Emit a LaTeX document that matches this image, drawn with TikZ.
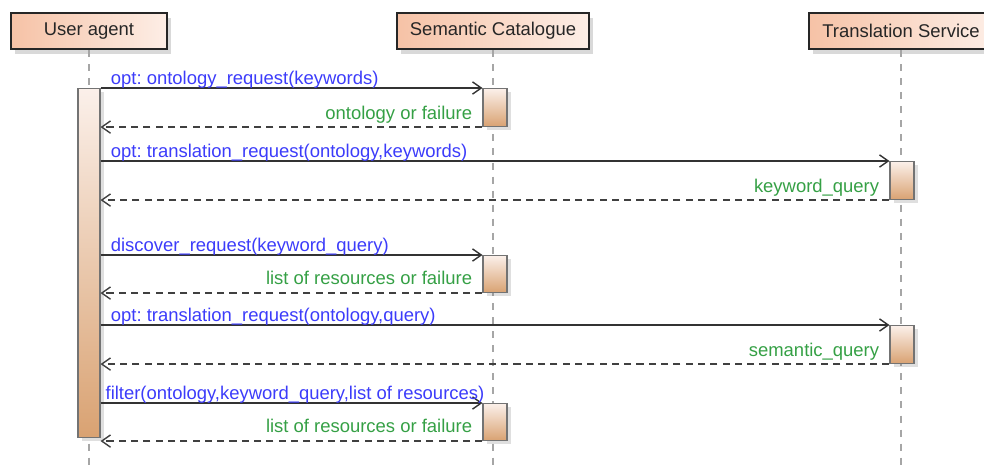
\documentclass[tikz,border=0pt]{standalone}
\usepackage{fontspec}
\setmainfont{Liberation Sans}
\usetikzlibrary{arrows.meta,shadows}
\frenchspacing

\definecolor{headL}{HTML}{F6C2A6}
\definecolor{headR}{HTML}{FDEEE6}
\definecolor{actT}{HTML}{FBF0EA}
\definecolor{actB}{HTML}{D9A272}
\definecolor{reqblue}{HTML}{3C3CFA}
\definecolor{ansgreen}{HTML}{35A045}

\begin{document}
\begin{tikzpicture}[x=0.02cm,y=-0.02cm,line width=0.8pt,
    font=\fontsize{10.5}{12}\selectfont,
    head/.style={draw=black!85, line width=1.2pt, left color=headL, right color=headR,
      minimum height=0.72cm, inner sep=2pt, text=black!85,
      drop shadow={opacity=0.3, shadow xshift=2pt, shadow yshift=-3pt}},
    act/.style={draw=black!55, line width=0.6pt, top color=actT, bottom color=actB,
      minimum width=0.48cm, inner sep=0pt, anchor=north,
      drop shadow={opacity=0.25, shadow xshift=2pt, shadow yshift=-2pt}},
    lifeline/.style={draw=black!35, line width=1pt, dash pattern=on 4pt off 4pt},
    call/.style={draw=black!80, -{Straight Barb[length=5pt,width=7pt]}},
    ret/.style={draw=black!75, dash pattern=on 4pt off 3pt, -{Straight Barb[length=5pt,width=7pt]}},
    reqtxt/.style={text=reqblue, anchor=south west, inner sep=0.5pt, xshift=5pt, yshift=-0.8pt},
    anstxt/.style={text=ansgreen, anchor=south east, inner sep=0.5pt, xshift=-5pt, yshift=1pt}]
  \useasboundingbox (0,0) rectangle (984,468);

  % ================= participants =================
  \node[head, minimum width=3.12cm] (ua) at (89,31) {User agent};
  \node[head, minimum width=3.84cm] (sc) at (493,31) {Semantic Catalogue};
  \node[head, minimum width=3.68cm] (ts) at (901,31) {Translation Service};

  % lifelines
  \draw[lifeline] (ua.south) -- (ua.south |- 0,470);
  \draw[lifeline] (sc.south) -- (sc.south |- 0,470);
  \draw[lifeline] (ts.south) -- (ts.south |- 0,470);

  % ================= activation bars =================
  \node[act, minimum width=0.44cm, minimum height=349*0.02cm] (uabar) at (89,88) {};
  \node[act, minimum height=38*0.02cm] (s1) at (495,88) {};
  \node[act, minimum height=38*0.02cm] (t1) at (902,161) {};
  \node[act, minimum height=37*0.02cm] (s2) at (495,255) {};
  \node[act, minimum height=38*0.02cm] (t2) at (902,325) {};
  \node[act, minimum height=37*0.02cm] (s3) at (495,403) {};

  % ================= messages =================
  \draw[call] (uabar.east |- s1.north) -- (s1.north west)
    node[reqtxt, pos=0] (m1) {opt: ontology\_request(keywords)};
  \draw[ret] (s1.south west) -- (uabar.east |- s1.south)
    node[anstxt, pos=0] (r1) {ontology or failure};

  \draw[call] (uabar.east |- t1.north) -- (t1.north west)
    node[reqtxt, pos=0] (m2) {opt: translation\_request(ontology,keywords)};
  \draw[ret] (t1.south west) -- (uabar.east |- t1.south)
    node[anstxt, pos=0] (r2) {keyword\_query};

  \draw[call] (uabar.east |- s2.north) -- (s2.north west)
    node[reqtxt, pos=0] (m3) {discover\_request(keyword\_query)};
  \draw[ret] (s2.south west) -- (uabar.east |- s2.south)
    node[anstxt, pos=0, yshift=3pt] (r3) {list of resources or failure};

  \draw[call] (uabar.east |- t2.north) -- (t2.north west)
    node[reqtxt, pos=0] (m4) {opt: translation\_request(ontology,query)};
  \draw[ret] (t2.south west) -- (uabar.east |- t2.south)
    node[anstxt, pos=0] (r4) {semantic\_query};

  \draw[call] (uabar.east |- s3.north) -- (s3.north west)
    node[reqtxt, pos=0, xshift=-3pt] (m5) {filter(ontology,keyword\_query,list of resources)};
  \draw[ret] (s3.south west) -- (uabar.east |- s3.south)
    node[anstxt, pos=0, yshift=3pt] (r5) {list of resources or failure};
\end{tikzpicture}
\end{document}
